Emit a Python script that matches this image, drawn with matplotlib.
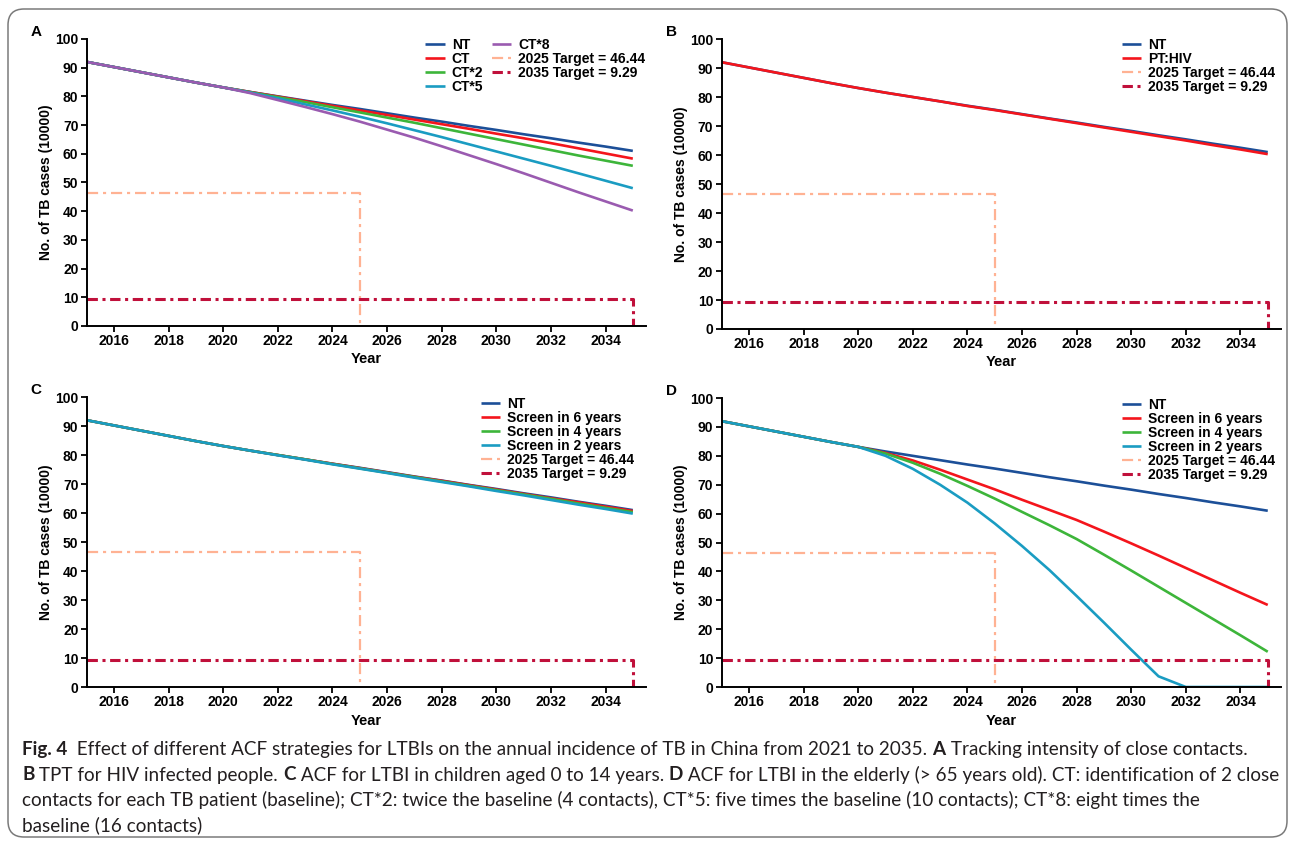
import matplotlib
matplotlib.use("Agg")
import matplotlib.pyplot as plt
from matplotlib.patches import FancyBboxPatch
from matplotlib.transforms import IdentityTransform


YEARS = list(range(2015, 2036))

# panel A: tracking intensity of close contacts
NT = [92.0, 90.2, 88.4, 86.6, 84.8, 83.1, 81.5, 80.0, 78.5, 77.0, 75.6,
      74.1, 72.6, 71.2, 69.7, 68.3, 66.8, 65.4, 63.9, 62.5, 61.0]
CT = [92.0, 90.2, 88.4, 86.6, 84.8, 83.1, 81.5, 79.9, 78.3, 76.7, 75.1,
      73.5, 71.9, 70.3, 68.7, 67.0, 65.4, 63.7, 61.9, 60.1, 58.3]
CT2 = [92.0, 90.2, 88.4, 86.6, 84.8, 83.1, 81.4, 79.7, 78.0, 76.2, 74.4,
       72.6, 70.8, 68.9, 67.0, 65.1, 63.2, 61.3, 59.4, 57.6, 55.8]
CT5 = [92.0, 90.2, 88.4, 86.6, 84.8, 83.1, 81.3, 79.3, 77.2, 75.1, 72.9,
       70.6, 68.2, 65.8, 63.3, 60.8, 58.3, 55.8, 53.2, 50.6, 48.0]
CT8 = [92.0, 90.2, 88.4, 86.6, 84.8, 83.1, 81.1, 78.7, 76.3, 73.8, 71.2,
       68.4, 65.6, 62.6, 59.5, 56.4, 53.2, 49.9, 46.6, 43.4, 40.2]

# panel B: TPT for HIV infected people
PT_HIV = [92.0, 90.2, 88.4, 86.6, 84.8, 83.1, 81.5, 80.0, 78.5, 76.9, 75.5,
          74.0, 72.5, 71.0, 69.5, 68.0, 66.5, 65.0, 63.4, 61.9, 60.3]

# panel C: children aged 0 to 14
C_SCREEN6 = [92.0, 90.2, 88.4, 86.6, 84.8, 83.1, 81.5, 80.0, 78.5, 77.0, 75.5,
             74.0, 72.5, 71.1, 69.6, 68.1, 66.6, 65.1, 63.7, 62.2, 60.7]
C_SCREEN4 = [92.0, 90.2, 88.4, 86.6, 84.8, 83.1, 81.5, 80.0, 78.5, 76.9, 75.4,
             73.9, 72.4, 70.9, 69.4, 67.9, 66.4, 64.9, 63.3, 61.8, 60.3]
C_SCREEN2 = [92.0, 90.2, 88.4, 86.6, 84.8, 83.1, 81.5, 79.9, 78.4, 76.8, 75.3,
             73.8, 72.2, 70.7, 69.2, 67.6, 66.1, 64.5, 62.9, 61.4, 59.8]

# panel D: elderly (>65)
D_SCREEN6 = [92.0, 90.2, 88.4, 86.6, 84.8, 83.1, 81.0, 78.4, 75.2, 71.8, 68.4,
             64.8, 61.3, 57.8, 53.8, 49.7, 45.5, 41.2, 36.9, 32.6, 28.4]
D_SCREEN4 = [92.0, 90.2, 88.4, 86.6, 84.8, 83.1, 80.8, 77.6, 73.8, 69.6, 65.2,
             60.6, 56.0, 51.2, 45.8, 40.3, 34.7, 29.1, 23.5, 17.9, 12.2]
D_SCREEN2 = [92.0, 90.2, 88.4, 86.6, 84.8, 83.1, 80.0, 75.5, 70.0, 63.8, 56.6,
             48.8, 40.5, 31.5, 22.3, 12.9, 3.7, 0.0, 0.0, 0.0, 0.0]

TARGET_2025 = 46.44
TARGET_2035 = 9.29

BLUE = "#1c4f98"
RED = "#f4151c"
GREEN = "#3db53a"
CYAN = "#1a9cc2"
PURPLE = "#9a5bb0"
SALMON = "#ffb293"
CRIMSON = "#c0103b"

FONT = ["Liberation Sans", "DejaVu Sans"]
plt.rcParams["font.family"] = FONT


def draw_panel(ax, letter, series, legend_anchor, ncol=1):
    for values, label, color in series:
        ax.plot(YEARS, values, color=color, lw=1.9, label=label,
                solid_capstyle="butt")
    ax.plot([YEARS[0], 2025, 2025], [TARGET_2025, TARGET_2025, 0],
            color=SALMON, lw=1.6, linestyle=(0, (5, 2.2, 1.4, 2.2)),
            label="2025 Target = 46.44")
    ax.plot([YEARS[0], YEARS[-1], YEARS[-1]], [TARGET_2035, TARGET_2035, 0],
            color=CRIMSON, lw=2.2, linestyle=(0, (3.4, 1.5, 1.0, 1.5)),
            label="2035 Target = 9.29")

    ax.set_xlim(2015, 2035.5)
    ax.set_ylim(0, 100)
    ax.set_xticks(range(2016, 2035, 2))
    ax.set_yticks(range(0, 101, 10))
    for side in ("top", "right"):
        ax.spines[side].set_visible(False)
    for side in ("left", "bottom"):
        ax.spines[side].set_linewidth(1.4)
    ax.tick_params(direction="out", length=4, width=1.3, labelsize=10, pad=2)
    for lab in ax.get_xticklabels() + ax.get_yticklabels():
        lab.set_fontweight("bold")
    ax.set_xlabel("Year", fontsize=10.5, fontweight="bold", labelpad=3)
    ax.set_ylabel("No. of TB cases (10000)", fontsize=10, fontweight="bold",
                  labelpad=1.5)
    ax.legend(loc="upper left", bbox_to_anchor=legend_anchor, ncol=ncol,
              frameon=False, prop={"weight": "bold", "size": 10},
              handlelength=1.4, handletextpad=0.5, labelspacing=0.0,
              columnspacing=0.6, borderpad=0, borderaxespad=0)
    ax.text(-0.1, 1.025, letter, transform=ax.transAxes, fontsize=11,
            fontweight="bold", ha="left", va="center")


fig = plt.figure(figsize=(12.95, 8.41), dpi=100)

ax_a = fig.add_axes([0.0670, 0.6124, 0.4322, 0.3413])
ax_b = fig.add_axes([0.5573, 0.6088, 0.4322, 0.3448])
ax_c = fig.add_axes([0.0670, 0.1831, 0.4322, 0.3448])
ax_d = fig.add_axes([0.5573, 0.1831, 0.4322, 0.3436])

draw_panel(ax_a, "A", [(NT, "NT", BLUE), (CT, "CT", RED), (CT2, "CT*2", GREEN),
                       (CT5, "CT*5", CYAN), (CT8, "CT*8", PURPLE)],
           (0.605, 1.005), ncol=2)
draw_panel(ax_b, "B", [(NT, "NT", BLUE), (PT_HIV, "PT:HIV", RED)],
           (0.715, 1.005))
draw_panel(ax_c, "C", [(NT, "NT", BLUE), (C_SCREEN6, "Screen in 6 years", RED),
                       (C_SCREEN4, "Screen in 4 years", GREEN),
                       (C_SCREEN2, "Screen in 2 years", CYAN)],
           (0.704, 1.0))
draw_panel(ax_d, "D", [(NT, "NT", BLUE), (D_SCREEN6, "Screen in 6 years", RED),
                       (D_SCREEN4, "Screen in 4 years", GREEN),
                       (D_SCREEN2, "Screen in 2 years", CYAN)],
           (0.715, 1.0))

# rounded frame around the figure, in pixels
W, H = 1295, 841
frame = FancyBboxPatch((8, 4), W - 16, H - 13,
                       boxstyle="round,pad=0,rounding_size=16",
                       transform=IdentityTransform(), fill=False,
                       edgecolor="#7a7a7a", lw=1.1)
fig.patches.append(frame)

# caption with bold runs
CAPTION = [
    [("Fig. 4", True),
     ("  Effect of different ACF strategies for LTBIs on the annual incidence "
      "of TB in China from 2021 to 2035. ", False),
     ("A", True), (" Tracking intensity of close contacts.", False)],
    [("B", True), (" TPT for HIV infected people. ", False), ("C", True),
     (" ACF for LTBI in children aged 0 to 14 years. ", False), ("D", True),
     (" ACF for LTBI in the elderly (> 65 years old). CT: identification of 2 "
      "close", False)],
    [("contacts for each TB patient (baseline); CT*2: twice the baseline "
      "(4 contacts), CT*5: five times the baseline (10 contacts); CT*8: eight "
      "times the", False)],
    [("baseline (16 contacts)", False)],
]
CAP_FONT = ["Lato", "DejaVu Sans"]

renderer = fig.canvas.get_renderer()


def run_width(txt, bold, size):
    weight = "bold" if bold else "normal"
    t = fig.text(0, 0, txt + "|", fontsize=size, family=CAP_FONT, fontweight=weight)
    bar = fig.text(0, 0, "|", fontsize=size, family=CAP_FONT, fontweight=weight)
    w = t.get_window_extent(renderer).width - bar.get_window_extent(renderer).width
    t.remove()
    bar.remove()
    return w


base = 12.0
w1 = sum(run_width(t, b, base) for t, b in CAPTION[0])
w2 = sum(run_width(t, b, base) for t, b in CAPTION[1])
cap_size = min(base * 1246.0 / w1, base * 1254.0 / w2)

for i, runs in enumerate(CAPTION):
    x = 22.0
    y = 755 + 25.5 * i
    for txt, bold in runs:
        fig.text(x / W, 1 - y / H, txt, fontsize=cap_size, family=CAP_FONT,
                 fontweight="bold" if bold else "normal",
                 color="#231f20", va="baseline", ha="left")
        x += run_width(txt, bold, cap_size)

fig.savefig("out.png", dpi=100)
